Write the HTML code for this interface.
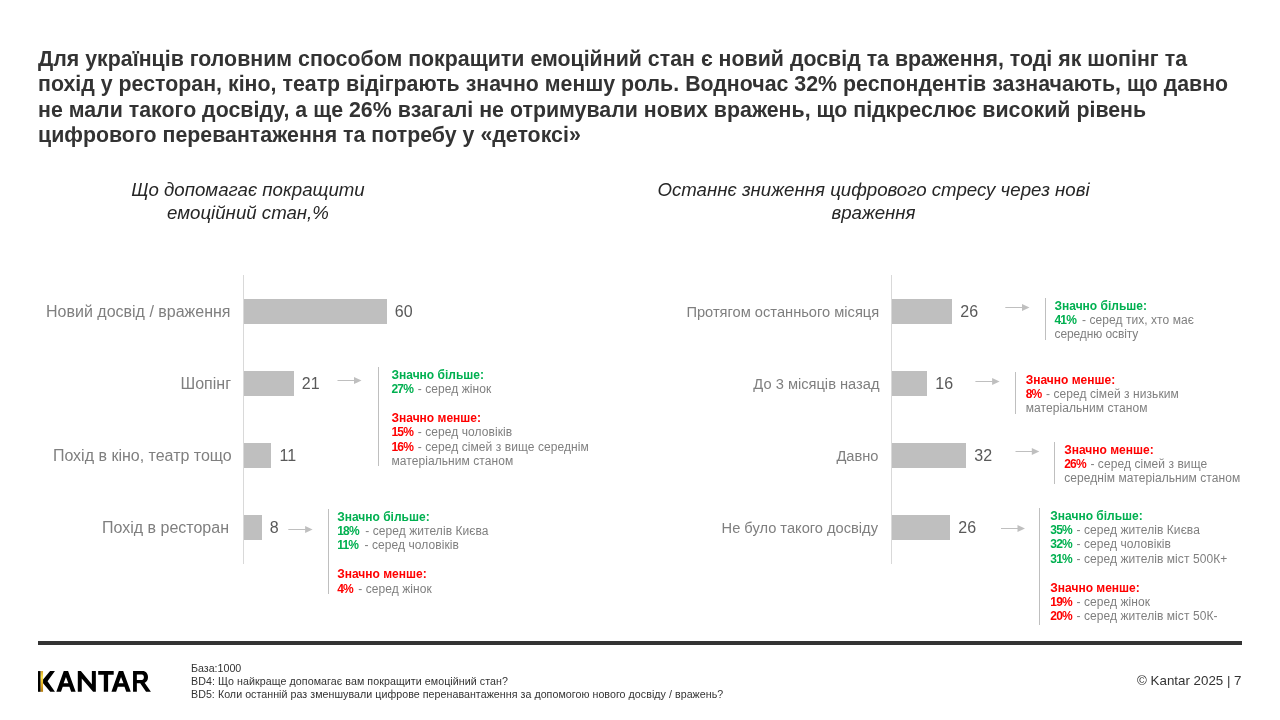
<!DOCTYPE html>
<html><head><meta charset="utf-8"><style>
html,body{margin:0;padding:0;background:#fff;}
body{width:1280px;height:720px;position:relative;overflow:hidden;font-family:"Liberation Sans", sans-serif;}
.t{position:absolute;white-space:pre;line-height:1;}
.r{position:absolute;}
#w{position:absolute;left:0;top:0;width:1280px;height:720px;will-change:transform;background:#fff;}
</style></head><body><div id="w">
<div class="t" style="top:49.04px;font-size:21.33px;color:#333333;font-weight:bold;left:38.00px;letter-spacing:0.015px;">Для українців головним способом покращити емоційний стан є новий досвід та враження, тоді як шопінг та</div>
<div class="t" style="top:74.04px;font-size:21.33px;color:#333333;font-weight:bold;left:38.00px;letter-spacing:0.015px;">похід у ресторан, кіно, театр відіграють значно меншу роль. Водночас 32% респондентів зазначають, що давно</div>
<div class="t" style="top:100.04px;font-size:21.33px;color:#333333;font-weight:bold;left:38.00px;letter-spacing:0.015px;">не мали такого досвіду, а ще 26% взагалі не отримували нових вражень, що підкреслює високий рівень</div>
<div class="t" style="top:125.04px;font-size:21.33px;color:#333333;font-weight:bold;left:38.00px;letter-spacing:0.015px;">цифрового перевантаження та потребу у «детоксі»</div>
<div class="t" style="top:181.05px;font-size:18.67px;color:#262626;font-style:italic;left:-152.00px;width:800px;text-align:center;">Що допомагає покращити</div>
<div class="t" style="top:204.05px;font-size:18.67px;color:#262626;font-style:italic;left:-152.00px;width:800px;text-align:center;">емоційний стан,%</div>
<div class="t" style="top:181.05px;font-size:18.67px;color:#262626;font-style:italic;left:473.50px;width:800px;text-align:center;">Останнє зниження цифрового стресу через нові</div>
<div class="t" style="top:204.05px;font-size:18.67px;color:#262626;font-style:italic;left:473.50px;width:800px;text-align:center;">враження</div>
<div class="r" style="left:243px;top:275px;width:1px;height:289px;background:#d9d9d9"></div>
<div class="r" style="left:244px;top:299px;width:143px;height:25px;background:#bfbfbf"></div>
<div class="t" style="top:304.01px;font-size:16px;color:#7f7f7f;right:1049.50px;text-align:right;">Новий досвід / враження</div>
<div class="t" style="top:304.01px;font-size:16px;color:#595959;left:394.80px;">60</div>
<div class="r" style="left:244px;top:371px;width:50px;height:25px;background:#bfbfbf"></div>
<div class="t" style="top:376.01px;font-size:16px;color:#7f7f7f;right:1049.00px;text-align:right;">Шопінг</div>
<div class="t" style="top:376.01px;font-size:16px;color:#595959;left:301.80px;">21</div>
<div class="r" style="left:244px;top:443px;width:27px;height:25px;background:#bfbfbf"></div>
<div class="t" style="top:448.01px;font-size:16px;color:#7f7f7f;right:1048.25px;text-align:right;">Похід в кіно, театр тощо</div>
<div class="t" style="top:448.01px;font-size:16px;color:#595959;left:279.60px;">11</div>
<div class="r" style="left:244px;top:515px;width:18px;height:25px;background:#bfbfbf"></div>
<div class="t" style="top:520.01px;font-size:16px;color:#7f7f7f;right:1051.00px;text-align:right;">Похід в ресторан</div>
<div class="t" style="top:520.01px;font-size:16px;color:#595959;left:269.80px;">8</div>
<div class="r" style="left:891px;top:275px;width:1px;height:289px;background:#d9d9d9"></div>
<div class="r" style="left:892px;top:299px;width:60px;height:25px;background:#bfbfbf"></div>
<div class="t" style="top:304.98px;font-size:14.67px;color:#7f7f7f;right:400.80px;text-align:right;">Протягом останнього місяця</div>
<div class="t" style="top:304.01px;font-size:16px;color:#595959;left:960.30px;">26</div>
<div class="r" style="left:892px;top:371px;width:35px;height:25px;background:#bfbfbf"></div>
<div class="t" style="top:376.98px;font-size:14.67px;color:#7f7f7f;right:400.50px;text-align:right;">До 3 місяців назад</div>
<div class="t" style="top:376.01px;font-size:16px;color:#595959;left:935.30px;">16</div>
<div class="r" style="left:892px;top:443px;width:74px;height:25px;background:#bfbfbf"></div>
<div class="t" style="top:448.98px;font-size:14.67px;color:#7f7f7f;right:401.50px;text-align:right;">Давно</div>
<div class="t" style="top:448.01px;font-size:16px;color:#595959;left:974.30px;">32</div>
<div class="r" style="left:892px;top:515px;width:58px;height:25px;background:#bfbfbf"></div>
<div class="t" style="top:520.98px;font-size:14.67px;color:#7f7f7f;right:402.00px;text-align:right;">Не було такого досвіду</div>
<div class="t" style="top:520.01px;font-size:16px;color:#595959;left:958.30px;">26</div>
<div class="r" style="left:378px;top:367px;width:1px;height:99px;background:#bfbfbf"></div>
<div class="t" style="top:369.04px;font-size:12px;color:#00b050;font-weight:bold;left:391.50px;">Значно більше:</div>
<div class="t" style="left:391.5px;top:383.04px;font-size:12px;color:#7f7f7f;letter-spacing:0.07px"><b style="color:#00b050;letter-spacing:-0.8px;margin-right:1.20px">27%</b> - серед жінок</div>
<div class="t" style="top:412.04px;font-size:12px;color:#ff0000;font-weight:bold;left:391.50px;">Значно менше:</div>
<div class="t" style="left:391.5px;top:426.04px;font-size:12px;color:#7f7f7f;letter-spacing:0.07px"><b style="color:#ff0000;letter-spacing:-0.8px;margin-right:1.20px">15%</b> - серед чоловіків</div>
<div class="t" style="left:391.5px;top:441.04px;font-size:12px;color:#7f7f7f;letter-spacing:0.07px"><b style="color:#ff0000;letter-spacing:-0.8px;margin-right:1.20px">16%</b> - серед сімей з вище середнім</div>
<div class="t" style="top:455.04px;font-size:12px;color:#7f7f7f;left:391.50px;letter-spacing:0.07px;">матеріальним станом</div>
<div class="r" style="left:328px;top:509px;width:1px;height:85px;background:#bfbfbf"></div>
<div class="t" style="top:511.04px;font-size:12px;color:#00b050;font-weight:bold;left:337.20px;">Значно більше:</div>
<div class="t" style="left:337.2px;top:525.04px;font-size:12px;color:#7f7f7f;letter-spacing:0.07px"><b style="color:#00b050;letter-spacing:-0.8px;margin-right:3.00px">18%</b> - серед жителів Києва</div>
<div class="t" style="left:337.2px;top:539.04px;font-size:12px;color:#7f7f7f;letter-spacing:0.07px"><b style="color:#00b050;letter-spacing:-0.8px;margin-right:3.00px">11%</b> - серед чоловіків</div>
<div class="t" style="top:568.04px;font-size:12px;color:#ff0000;font-weight:bold;left:337.20px;">Значно менше:</div>
<div class="t" style="left:337.2px;top:583.04px;font-size:12px;color:#7f7f7f;letter-spacing:0.07px"><b style="color:#ff0000;letter-spacing:-0.8px;margin-right:1.90px">4%</b> - серед жінок</div>
<div class="r" style="left:1045px;top:298px;width:1px;height:42px;background:#bfbfbf"></div>
<div class="t" style="top:300.04px;font-size:12px;color:#00b050;font-weight:bold;left:1054.50px;">Значно більше:</div>
<div class="t" style="left:1054.5px;top:314.04px;font-size:12px;color:#7f7f7f;letter-spacing:0.07px"><b style="color:#00b050;letter-spacing:-0.8px;margin-right:2.40px">41%</b> - серед тих, хто має</div>
<div class="t" style="top:328.04px;font-size:12px;color:#7f7f7f;left:1054.50px;letter-spacing:-0.1px;">середню освіту</div>
<div class="r" style="left:1015px;top:372px;width:1px;height:42px;background:#bfbfbf"></div>
<div class="t" style="top:374.04px;font-size:12px;color:#ff0000;font-weight:bold;left:1025.70px;">Значно менше:</div>
<div class="t" style="left:1025.7px;top:388.04px;font-size:12px;color:#7f7f7f;letter-spacing:0.07px"><b style="color:#ff0000;letter-spacing:-0.8px;margin-right:1.20px">8%</b> - серед сімей з низьким</div>
<div class="t" style="top:402.04px;font-size:12px;color:#7f7f7f;left:1025.70px;letter-spacing:0.07px;">матеріальним станом</div>
<div class="r" style="left:1054px;top:442px;width:1px;height:42px;background:#bfbfbf"></div>
<div class="t" style="top:444.04px;font-size:12px;color:#ff0000;font-weight:bold;left:1064.20px;">Значно менше:</div>
<div class="t" style="left:1064.2px;top:458.04px;font-size:12px;color:#7f7f7f;letter-spacing:0.07px"><b style="color:#ff0000;letter-spacing:-0.8px;margin-right:1.20px">26%</b> - серед сімей з вище</div>
<div class="t" style="top:472.04px;font-size:12px;color:#7f7f7f;left:1064.20px;letter-spacing:0.07px;">середнім матеріальним станом</div>
<div class="r" style="left:1039px;top:508px;width:1px;height:117px;background:#bfbfbf"></div>
<div class="t" style="top:510.04px;font-size:12px;color:#00b050;font-weight:bold;left:1050.30px;">Значно більше:</div>
<div class="t" style="left:1050.3px;top:524.04px;font-size:12px;color:#7f7f7f;letter-spacing:0.07px"><b style="color:#00b050;letter-spacing:-0.8px;margin-right:1.20px">35%</b> - серед жителів Києва</div>
<div class="t" style="left:1050.3px;top:538.04px;font-size:12px;color:#7f7f7f;letter-spacing:0.07px"><b style="color:#00b050;letter-spacing:-0.8px;margin-right:1.20px">32%</b> - серед чоловіків</div>
<div class="t" style="left:1050.3px;top:553.04px;font-size:12px;color:#7f7f7f;letter-spacing:0.07px"><b style="color:#00b050;letter-spacing:-0.8px;margin-right:1.20px">31%</b> - серед жителів міст 500К+</div>
<div class="t" style="top:582.04px;font-size:12px;color:#ff0000;font-weight:bold;left:1050.30px;">Значно менше:</div>
<div class="t" style="left:1050.3px;top:596.04px;font-size:12px;color:#7f7f7f;letter-spacing:0.07px"><b style="color:#ff0000;letter-spacing:-0.8px;margin-right:1.20px">19%</b> - серед жінок</div>
<div class="t" style="left:1050.3px;top:610.04px;font-size:12px;color:#7f7f7f;letter-spacing:0.07px"><b style="color:#ff0000;letter-spacing:-0.8px;margin-right:1.20px">20%</b> - серед жителів міст 50К-</div>
<svg class="r" style="left:0;top:0" width="1280" height="720" viewBox="0 0 1280 720"><rect x="337.5" y="380.0" width="17.00" height="1" fill="#bfbfbf"/><path d="M354.00,376.90 L361.50,380.50 L354.00,384.10 Z" fill="#bfbfbf"/><rect x="288.3" y="529.0" width="17.30" height="1" fill="#bfbfbf"/><path d="M305.10,525.90 L312.60,529.50 L305.10,533.10 Z" fill="#bfbfbf"/><rect x="1005.3" y="307.0" width="17.20" height="1" fill="#bfbfbf"/><path d="M1022.00,303.90 L1029.50,307.50 L1022.00,311.10 Z" fill="#bfbfbf"/><rect x="975.4" y="381.0" width="17.20" height="1" fill="#bfbfbf"/><path d="M992.10,377.90 L999.60,381.50 L992.10,385.10 Z" fill="#bfbfbf"/><rect x="1015.5" y="451.0" width="16.80" height="1" fill="#bfbfbf"/><path d="M1031.80,447.90 L1039.30,451.50 L1031.80,455.10 Z" fill="#bfbfbf"/><rect x="1001" y="528.0" width="17.00" height="1" fill="#bfbfbf"/><path d="M1017.50,524.90 L1025.00,528.50 L1017.50,532.10 Z" fill="#bfbfbf"/></svg>
<div class="r" style="left:38px;top:641px;width:1204px;height:4px;background:#333333"></div>
<div class="t" style="top:662.97px;font-size:10.67px;color:#333333;left:191.00px;">База:1000</div>
<div class="t" style="top:675.97px;font-size:10.67px;color:#333333;left:191.00px;letter-spacing:0.07px;">BD4: Що найкраще допомагає вам покращити емоційний стан?</div>
<div class="t" style="top:688.97px;font-size:10.67px;color:#333333;left:191.00px;letter-spacing:0.045px;">BD5: Коли останній раз зменшували цифрове перенавантаження за допомогою нового досвіду / вражень?</div>
<div class="t" style="top:673.92px;font-size:13.33px;color:#333333;right:38.50px;text-align:right;">© Kantar 2025 | 7</div>
<svg class="r" style="left:0;top:0" width="1280" height="720" viewBox="0 0 1280 720">
<defs><linearGradient id="gold" x1="0" y1="0" x2="0" y2="1">
<stop offset="0" stop-color="#d4a42a"/><stop offset="0.3" stop-color="#ffe64a"/><stop offset="0.65" stop-color="#e6b022"/><stop offset="1" stop-color="#b27a0e"/></linearGradient></defs>
<g fill="#000">
<rect x="38" y="671.07" width="2.69" height="20.73"/>
<polygon points="50.1,671.07 54.95,671.07 47.55,681.36 54.95,691.8 50.26,691.8 43.04,683.2 43.04,679.6"/>
<path id="A1" fill-rule="evenodd" d="M56.35,691.8 L63.75,671.07 L68.1,671.07 L75.66,691.8 L71.15,691.8 L69.4,686.8 L62.75,686.8 L61,691.8 Z M65.95,677 L68.4,683.2 L63.6,683.2 Z"/>
<polygon points="77.8,671.07 80.86,671.07 91.87,684.25 91.87,671.07 95.84,671.07 95.84,691.8 93.1,691.8 81.76,678.5 81.76,691.8 77.8,691.8"/>
<polygon points="98.2,671.07 113.7,671.07 113.7,674.8 108.1,674.8 108.1,691.8 103.8,691.8 103.8,674.8 98.2,674.8"/>
<path fill-rule="evenodd" transform="translate(55.1,0)" d="M56.35,691.8 L63.75,671.07 L68.1,671.07 L75.66,691.8 L71.15,691.8 L69.4,686.8 L62.75,686.8 L61,691.8 Z M65.95,677 L68.4,683.2 L63.6,683.2 Z"/>
<path fill-rule="evenodd" d="M133.05,671.07 L142.6,671.07 C145.9,671.07 148.0,673.7 148.0,677.2 C148.0,679.9 146.6,682 144.6,682.8 L150.9,691.8 L146.05,691.8 L140.2,683.2 L136.85,683.2 L136.85,691.8 L133.05,691.8 Z M136.85,674.5 L141.9,674.5 C143.1,674.5 143.9,675.7 143.9,677.2 C143.9,678.7 143.1,679.9 141.9,679.9 L136.85,679.9 Z"/>
</g>
<rect x="40.69" y="671.07" width="2.35" height="20.73" fill="url(#gold)"/>
</svg>
</div></body></html>
